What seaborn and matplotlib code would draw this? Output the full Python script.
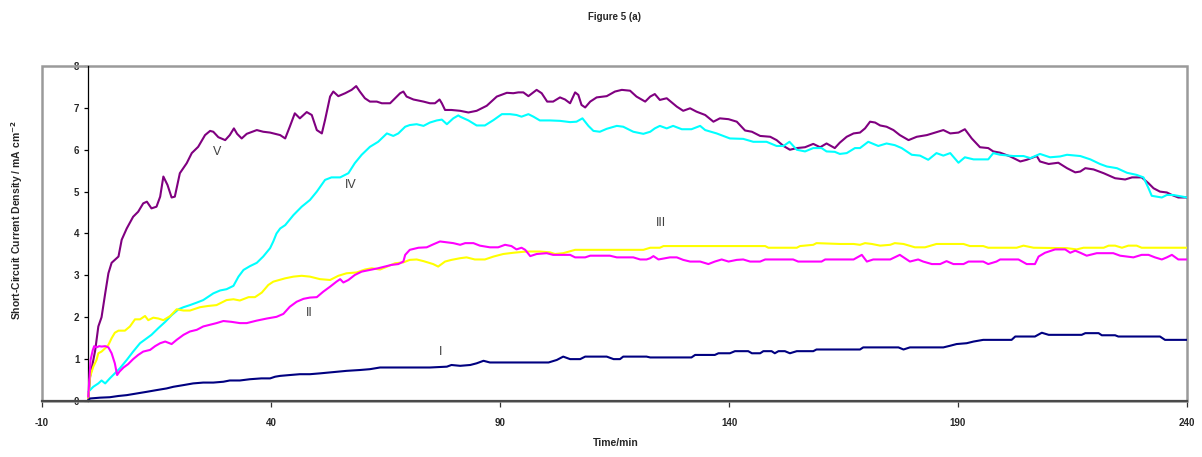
import matplotlib
matplotlib.use("Agg")
import matplotlib.pyplot as plt
import seaborn as sns
from matplotlib import font_manager
from matplotlib.patches import Rectangle

sns.set_style("white")
_avail = {f.name for f in font_manager.fontManager.ttflist}
_fams = [f for f in ["Liberation Sans Narrow", "Liberation Sans", "DejaVu Sans"] if f in _avail]
plt.rcParams["font.family"] = _fams
_label_fams = [f for f in ["Liberation Sans", "DejaVu Sans"] if f in _avail]

# ---------------- data ----------------
x_ticks = [-10, 40, 90, 140, 190, 240]
y_ticks = [0, 1, 2, 3, 4, 5, 6, 7, 8]

t_V = [0.1, 0.5, 1.6, 2.3, 3.0, 3.8, 4.5, 5.2, 6.7, 7.4, 8.5, 9.9, 11.0, 12.1, 12.9, 13.9, 15.0, 15.8, 16.5, 17.4,
       18.3, 19.0, 20.1, 21.6, 22.7, 24.1, 25.6, 26.7, 27.4, 28.5, 30.0, 31.0, 31.9, 32.6, 33.6, 34.7, 36.9, 38.3, 39.8,
       42.0, 43.1, 44.1, 45.2, 46.3, 47.8, 48.9, 50.0, 51.1, 51.8, 52.9, 53.6, 54.7, 56.2, 57.6, 58.6, 59.4, 60.5, 61.6,
       63.1, 64.2, 66.0, 67.1, 68.2, 68.9, 69.6, 71.1, 73.3, 74.7, 75.8, 76.8, 77.3, 78.0, 79.4, 81.3,
       83.1, 84.9, 87.1, 89.3, 91.5, 92.9, 94.0, 95.1, 96.2, 98.0, 99.1, 100.3, 101.6, 103.1, 104.2, 105.3, 106.4, 107.1,
       107.8, 108.6, 109.7, 111.1, 113.3, 115.1, 116.6, 118.4, 119.8, 121.7,
       122.8, 123.8, 124.9, 126.4, 128.6, 130.0, 131.5, 132.9, 134.8, 136.6, 138.0, 139.9, 141.7, 143.5, 145.0, 146.8,
       149.0, 150.4, 151.9, 153.3, 154.8, 156.6, 158.4, 159.9, 161.3, 163.1,
       164.2, 165.7, 167.2, 168.6, 169.7, 170.8, 171.9, 173.0, 174.4, 175.9, 177.3, 179.2, 181.0, 183.2, 185.0, 186.8,
       188.3, 190.1, 191.5, 193.0, 194.8, 196.6, 197.7,
       199.2, 201.4, 203.6, 205.0, 207.2, 207.9, 209.8, 211.9, 213.8, 215.6, 216.7, 217.8, 219.6, 221.8, 224.3, 226.5,
       228.0, 230.1, 231.6, 232.7, 234.1, 235.6, 236.7, 238.1, 240.0]
j_V = [0.0, 0.58, 1.2, 1.78, 2.0, 2.57, 3.05, 3.3, 3.45, 3.85, 4.12, 4.4, 4.52, 4.72, 4.76, 4.6, 4.64, 4.88, 5.36, 5.16,
       4.86, 4.88, 5.44, 5.68, 5.92, 6.07, 6.35, 6.45, 6.43, 6.3, 6.23, 6.35, 6.51, 6.38, 6.27, 6.38, 6.47, 6.43, 6.41,
       6.35, 6.27, 6.55, 6.87, 6.75, 6.9, 6.83, 6.47, 6.39, 6.71, 7.27, 7.39, 7.28, 7.35, 7.43, 7.52, 7.39, 7.23, 7.15,
       7.15, 7.11, 7.11, 7.23, 7.35, 7.39, 7.27, 7.2, 7.15, 7.11, 7.11, 7.2, 7.11, 6.95, 6.95, 6.93,
       6.89, 6.93, 7.05, 7.27, 7.36, 7.35, 7.37, 7.37, 7.28, 7.43, 7.35, 7.15, 7.15, 7.25, 7.2, 7.11, 7.37, 7.31,
       7.07, 7.01, 7.15, 7.25, 7.28, 7.39, 7.43, 7.41, 7.27, 7.15,
       7.27, 7.33, 7.19, 7.23, 7.03, 6.93, 6.99, 6.91, 6.83, 6.67, 6.75, 6.73, 6.67, 6.46, 6.43, 6.33,
       6.31, 6.23, 6.09, 6.0, 6.04, 6.06, 6.14, 6.06, 6.15, 6.04,
       6.17, 6.31, 6.39, 6.41, 6.51, 6.67, 6.65, 6.58, 6.55, 6.47, 6.35, 6.23, 6.31, 6.35, 6.41, 6.47,
       6.39, 6.41, 6.49, 6.27, 6.06, 6.04, 5.96,
       5.93, 5.84, 5.72, 5.76, 5.85, 5.72, 5.66, 5.69, 5.56, 5.46, 5.48, 5.56, 5.53, 5.44, 5.32, 5.29,
       5.34, 5.34, 5.2, 5.08, 5.0, 4.98, 4.92, 4.86, 4.86]

t_IV = [0.1, 1.2, 2.3, 3.0, 3.8, 4.8, 5.9, 7.0, 8.5, 9.9, 11.4, 12.9, 13.9, 15.4, 16.9, 18.3, 19.8, 20.9, 22.3, 23.8,
        25.2, 26.3, 27.4, 28.9, 30.3, 31.8, 32.9, 34.0, 35.4, 36.9, 38.3, 39.8, 40.5, 41.2, 42.0,
        43.1, 44.9, 46.7, 48.5, 50.0, 51.8, 53.2, 55.1, 56.9, 58.3, 59.8, 61.6, 63.4, 65.3, 66.7, 67.8, 69.3, 70.3,
        71.8, 73.3, 74.7, 76.2, 77.3, 78.4, 79.8, 80.9,
        81.3, 83.1, 84.9, 86.7, 88.6, 90.4, 92.2, 93.6, 94.7, 96.2, 97.3, 98.7, 100.9, 103.1, 105.3, 106.7, 108.0,
        109.3, 110.4, 111.8, 113.3, 115.5, 116.9, 119.1, 121.3,
        122.8, 123.8, 124.9, 126.4, 127.8, 129.7, 131.8, 133.7, 134.8, 137.3, 140.2, 143.1, 145.3, 148.2, 150.4,
        151.9, 153.2, 154.8, 156.6, 158.4, 160.2, 161.3, 163.1,
        164.2, 165.7, 167.5, 168.6, 170.4, 172.6, 174.4, 176.2, 177.7, 179.9, 181.7, 183.5, 185.3, 186.8, 188.3,
        190.1, 191.5, 193.4, 196.6, 197.7,
        199.2, 202.1, 204.3, 205.8, 207.9, 210.1, 212.3, 213.8, 216.7, 218.9, 221.0, 222.5, 224.7, 226.9, 229.0,
        230.5, 231.6, 232.3, 234.5, 235.6, 237.0, 240.0]
j_IV = [0.22, 0.34, 0.42, 0.49, 0.42, 0.54, 0.66, 0.78, 0.98, 1.18, 1.38, 1.5, 1.58, 1.74, 1.89, 2.05, 2.19, 2.24, 2.29, 2.35,
        2.41, 2.49, 2.57, 2.64, 2.67, 2.75, 2.97, 3.13, 3.22, 3.3, 3.45, 3.65, 3.81, 4.0, 4.12,
        4.2, 4.44, 4.64, 4.8, 5.0, 5.28, 5.34, 5.34, 5.44, 5.68, 5.88, 6.07, 6.19, 6.39, 6.33, 6.39, 6.55, 6.59,
        6.61, 6.57, 6.65, 6.7, 6.72, 6.61, 6.75, 6.82,
        6.79, 6.7, 6.58, 6.58, 6.71, 6.85, 6.85, 6.83, 6.79, 6.85, 6.79, 6.7, 6.7, 6.69, 6.66, 6.67, 6.75,
        6.57, 6.45, 6.43, 6.5, 6.57, 6.55, 6.43, 6.38,
        6.43, 6.51, 6.57, 6.51, 6.57, 6.49, 6.49, 6.57, 6.47, 6.39, 6.27, 6.26, 6.19, 6.19, 6.09,
        6.09, 6.19, 6.0, 5.96, 6.04, 6.04, 5.96, 5.95,
        5.9, 5.92, 6.04, 6.04, 6.19, 6.09, 6.15, 6.11, 6.04, 5.88, 5.86, 5.76, 5.92, 5.86, 5.92,
        5.69, 5.82, 5.77, 5.77, 5.92,
        5.88, 5.85, 5.85, 5.8, 5.9, 5.82, 5.84, 5.88, 5.85, 5.77, 5.66, 5.6, 5.56, 5.45, 5.4,
        5.34, 5.08, 4.9, 4.86, 4.92, 4.92, 4.86]

t_III = [0.1, 0.5, 1.2, 1.9, 2.3, 3.0, 3.8, 4.5, 5.2, 5.9, 6.7, 8.1, 9.2, 10.3, 11.4, 12.5, 13.2, 14.3, 15.4, 16.5,
         18.0, 19.4, 20.9, 22.3, 24.5, 26.3, 28.1, 30.3, 31.8, 33.2, 35.1, 36.5, 38.0, 39.4, 40.5,
         43.1, 44.9, 46.7, 48.5, 50.7, 52.9, 54.7, 56.5, 58.7, 60.5, 62.0, 63.8, 65.6, 67.1, 68.9, 70.3, 71.8, 73.3,
         75.4, 76.5, 78.0, 79.4, 81.3,
         82.7, 84.5, 86.7, 88.6, 90.7, 92.9, 95.8, 98.7, 100.9, 102.0, 103.8, 106.4, 110.4, 114.0, 117.7, 121.3, 122.8,
         124.9, 125.7, 130.0, 137.3, 144.6, 147.9, 148.6, 154.8, 155.5, 158.4, 159.1,
         164.2, 167.2, 168.6, 169.7, 171.2, 173.0, 175.2, 176.2, 178.1, 180.6, 182.8, 185.3, 189.0, 191.2, 192.6,
         195.5, 196.6,
         199.2, 202.8, 204.3, 206.5, 213.8, 215.9, 217.4, 221.8, 222.9, 224.3, 225.8, 227.2, 229.0, 230.1, 240.0]
j_III = [0.06, 0.58, 0.82, 0.98, 1.14, 1.18, 1.26, 1.34, 1.5, 1.63, 1.68, 1.68, 1.78, 1.95, 1.95, 2.03, 1.93, 1.99, 1.97, 1.93,
         2.03, 2.19, 2.16, 2.16, 2.24, 2.27, 2.29, 2.41, 2.43, 2.4, 2.48, 2.48, 2.59, 2.77, 2.85,
         2.93, 2.97, 2.99, 2.97, 2.91, 2.89, 2.99, 3.05, 3.07, 3.14, 3.17, 3.14, 3.22, 3.29, 3.31, 3.37, 3.38, 3.34,
         3.27, 3.21, 3.33, 3.37, 3.41,
         3.43, 3.38, 3.38, 3.45, 3.51, 3.54, 3.57, 3.57, 3.55, 3.51, 3.53, 3.61, 3.61, 3.61, 3.61, 3.61, 3.66,
         3.66, 3.7, 3.7, 3.7, 3.7, 3.7, 3.66, 3.66, 3.7, 3.73, 3.77,
         3.75, 3.75, 3.73, 3.77, 3.75, 3.71, 3.73, 3.77, 3.75, 3.67, 3.67, 3.75, 3.75, 3.75, 3.7,
         3.7, 3.66,
         3.66, 3.66, 3.71, 3.66, 3.65, 3.62, 3.66, 3.66, 3.71, 3.71, 3.66, 3.71, 3.71, 3.66, 3.66]

t_II = [0.1, 0.6, 1.1, 1.4, 1.9, 2.5, 3.0, 3.8, 4.5, 5.2, 5.9, 6.4, 6.9, 7.8, 8.8, 9.9, 11.0, 12.1, 13.6, 14.7,
        15.8, 16.9, 18.3, 19.4, 20.9, 22.3, 23.8, 25.2, 26.7, 28.1, 29.6, 31.4, 33.2, 34.7, 36.9, 39.1,
        41.2, 42.7, 44.1, 45.6, 47.1, 48.5, 50.0, 51.4, 52.9, 54.3, 55.1, 55.8, 56.9, 58.3, 59.8, 61.6, 63.4, 64.9,
        66.3, 67.8, 68.9, 69.3, 70.3, 72.2, 74.0, 75.4, 76.9, 78.4, 79.8, 81.3,
        82.4, 84.2, 85.6, 87.8, 89.6, 91.1, 92.5, 93.6, 94.7, 95.5, 96.6, 98.0, 100.2, 101.6, 105.3, 106.4, 108.6,
        109.7, 114.0, 115.5, 119.1, 120.6, 122.0,
        122.8, 123.5, 124.6, 127.1, 128.6, 130.0, 131.5, 133.7, 135.5, 136.9, 138.4, 139.9, 141.7, 143.1, 144.6,
        146.8, 147.9, 154.0, 155.1, 160.2, 161.0,
        164.2, 167.2, 169.0, 170.1, 171.5, 175.2, 177.3, 179.5, 181.3, 182.4, 184.3, 186.1, 187.5, 189.0, 191.2,
        192.3, 195.5, 196.6, 198.4,
        199.2, 203.2, 205.0, 206.8, 207.6, 209.0, 211.2, 213.4, 214.5, 215.6, 216.7, 218.1, 220.3, 223.9, 225.4,
        228.3, 230.1, 231.6, 233.0, 234.5, 235.6, 236.7, 238.1, 240.0]
j_II = [0.1, 0.98, 1.22, 1.31, 1.28, 1.31, 1.3, 1.31, 1.28, 1.14, 0.9, 0.62, 0.7, 0.8, 0.88, 1.0, 1.1, 1.18, 1.22, 1.31,
        1.38, 1.42, 1.36, 1.46, 1.58, 1.66, 1.7, 1.78, 1.82, 1.86, 1.91, 1.89, 1.86, 1.86, 1.92, 1.97,
        2.01, 2.08, 2.25, 2.37, 2.44, 2.47, 2.48, 2.61, 2.73, 2.85, 2.91, 2.83, 2.89, 3.01, 3.09, 3.13, 3.17, 3.21,
        3.25, 3.27, 3.33, 3.49, 3.61, 3.66, 3.67, 3.74, 3.81, 3.79, 3.77, 3.73,
        3.77, 3.77, 3.71, 3.67, 3.67, 3.73, 3.7, 3.62, 3.66, 3.61, 3.46, 3.51, 3.53, 3.49, 3.49, 3.43, 3.43,
        3.47, 3.47, 3.43, 3.43, 3.38, 3.38,
        3.41, 3.46, 3.38, 3.43, 3.43, 3.37, 3.33, 3.33, 3.27, 3.33, 3.38, 3.33, 3.37, 3.38, 3.33,
        3.33, 3.38, 3.38, 3.33, 3.33, 3.38,
        3.38, 3.38, 3.49, 3.33, 3.38, 3.38, 3.49, 3.33, 3.38, 3.33, 3.27, 3.27, 3.34, 3.27, 3.27,
        3.33, 3.33, 3.27, 3.33,
        3.38, 3.38, 3.27, 3.27, 3.45, 3.54, 3.62, 3.62, 3.54, 3.59, 3.54, 3.47, 3.53, 3.53, 3.47,
        3.43, 3.49, 3.49, 3.43, 3.38, 3.43, 3.49, 3.38, 3.38]

t_I = [0.1, 0.5, 2.7, 4.8, 6.7, 8.5, 10.7, 12.9, 15.0, 17.2, 18.7, 20.9, 23.0, 25.2, 27.4, 29.6, 31.0, 33.2, 35.4,
       37.9, 39.8, 40.9,
       42.0, 44.1, 46.3, 48.5, 50.7, 53.6, 56.5, 59.4, 61.6, 63.8, 67.4, 71.1, 74.7, 78.4, 79.4,
       81.3, 83.5, 84.9, 86.4, 87.8, 92.2, 95.8, 100.6, 102.4, 103.8, 105.3, 107.5, 108.6, 113.3, 114.8, 116.2,
       116.9, 122.0,
       122.8, 131.8, 132.6, 136.9, 137.7, 140.2, 141.3, 144.2, 145.0, 146.8, 147.5, 149.3, 150.0, 150.8, 152.2,
       153.3, 154.8, 158.4, 159.1,
       164.2, 168.6, 169.3, 177.0, 178.1, 179.5, 186.8, 188.3, 189.7, 191.9, 193.4, 195.5, 198.4,
       199.2, 201.7, 202.5, 206.8, 208.3, 209.8, 217.0, 217.8, 220.7, 221.4, 224.3, 225.0, 234.1, 235.2, 240.0]
j_I = [0.02, 0.06, 0.08, 0.09, 0.12, 0.14, 0.18, 0.22, 0.26, 0.3, 0.34, 0.38, 0.42, 0.44, 0.44, 0.46, 0.49, 0.49, 0.52,
       0.54, 0.54, 0.58,
       0.6, 0.62, 0.64, 0.64, 0.66, 0.69, 0.72, 0.74, 0.76, 0.8, 0.8, 0.8, 0.8, 0.82, 0.86,
       0.84, 0.86, 0.9, 0.96, 0.92, 0.92, 0.92, 0.92, 0.98, 1.06, 1.0, 1.0, 1.06, 1.06, 1.0, 1.0,
       1.06, 1.06,
       1.04, 1.04, 1.1, 1.1, 1.14, 1.14, 1.19, 1.19, 1.14, 1.14, 1.19, 1.19, 1.14, 1.19, 1.19,
       1.14, 1.19, 1.19, 1.23,
       1.23, 1.23, 1.28, 1.28, 1.23, 1.28, 1.28, 1.32, 1.36, 1.38, 1.42, 1.46, 1.46,
       1.46, 1.46, 1.54, 1.54, 1.63, 1.58, 1.58, 1.62, 1.62, 1.57, 1.57, 1.54, 1.54, 1.46, 1.46]

series_names = ["I", "II", "III", "IV", "V"]
series_colors = {"I": "#000080", "II": "#FF00FF", "III": "#FFFF00", "IV": "#00FFFF", "V": "#800080"}
series_data = {"I": (t_I, j_I), "II": (t_II, j_II), "III": (t_III, j_III), "IV": (t_IV, j_IV), "V": (t_V, j_V)}
# curve label anchors (annotation placement)
label_pos = {"V": (28.2, 5.95), "IV": (57.5, 5.16), "III": (125.1, 4.25), "II": (48.3, 2.1), "I": (77.0, 1.18)}

# ---------------- figure ----------------
W, H = 1202, 457
fig = plt.figure(figsize=(W / 100, H / 100), dpi=100)
fig.patch.set_facecolor("white")
L, R, T, B = 42, 1187, 66, 401
ax = fig.add_axes([L / W, 1 - B / H, (R - L) / W, (B - T) / H])

for name in ["V", "IV", "III", "II", "I"]:
    t, j = series_data[name]
    sns.lineplot(x=t, y=j, color=series_colors[name], linewidth=1.5, estimator=None,
                 sort=False, ax=ax, legend=False, zorder=3)

ax.set_xlabel("")
ax.set_ylabel("")

# spines first (set_position resets tick styling)
for s in ["top", "right"]:
    ax.spines[s].set_visible(False)
ax.spines["left"].set_position(("data", 0))
ax.spines["left"].set_color("#000000")
ax.spines["left"].set_linewidth(0.9)
ax.spines["bottom"].set_color("#4a4a4a")
ax.spines["bottom"].set_linewidth(1.6)
ax.spines["bottom"].set_zorder(4)

ax.set_xlim(-10, 240)
ax.set_ylim(0, 8)
ax.set_xticks(x_ticks)
ax.set_yticks(y_ticks)
ax.set_xticklabels([str(v) for v in x_ticks], fontsize=7, fontweight="bold")
ax.set_yticklabels([str(v) for v in y_ticks], fontsize=7, fontweight="bold")

ax.add_patch(Rectangle((0, 0), 1, 1, transform=ax.transAxes, fill=False,
                       edgecolor="#9a9a9a", linewidth=1.8, clip_on=False, zorder=2))

ax.tick_params(axis="x", direction="out", length=4.5, width=0.9, color="#333333",
               pad=8, bottom=True)
ax.tick_params(axis="y", direction="out", length=3, width=0.9, color="#000000",
               pad=3, left=True)
ax.grid(False)

for name, (lx, ly) in label_pos.items():
    ax.text(lx, ly, name, fontsize=9, color="#404040", ha="center", va="center",
            family=_label_fams, zorder=5)

fig.text(0.511, 1 - 17 / H, "Figure 5 (a)", ha="center", va="center",
         fontsize=7, fontweight="bold")
fig.text(0.512, 1 - 443 / H, "Time/min", ha="center", va="center",
         fontsize=7.5, fontweight="bold")
fig.text(17 / W, 1 - 220 / H, r"Short-Circuit Current Density / mA cm$^{\mathbf{-2}}$",
         rotation=90, ha="center", va="center", fontsize=7.5, fontweight="bold")

fig.savefig("out.png", dpi=100, facecolor="white")
